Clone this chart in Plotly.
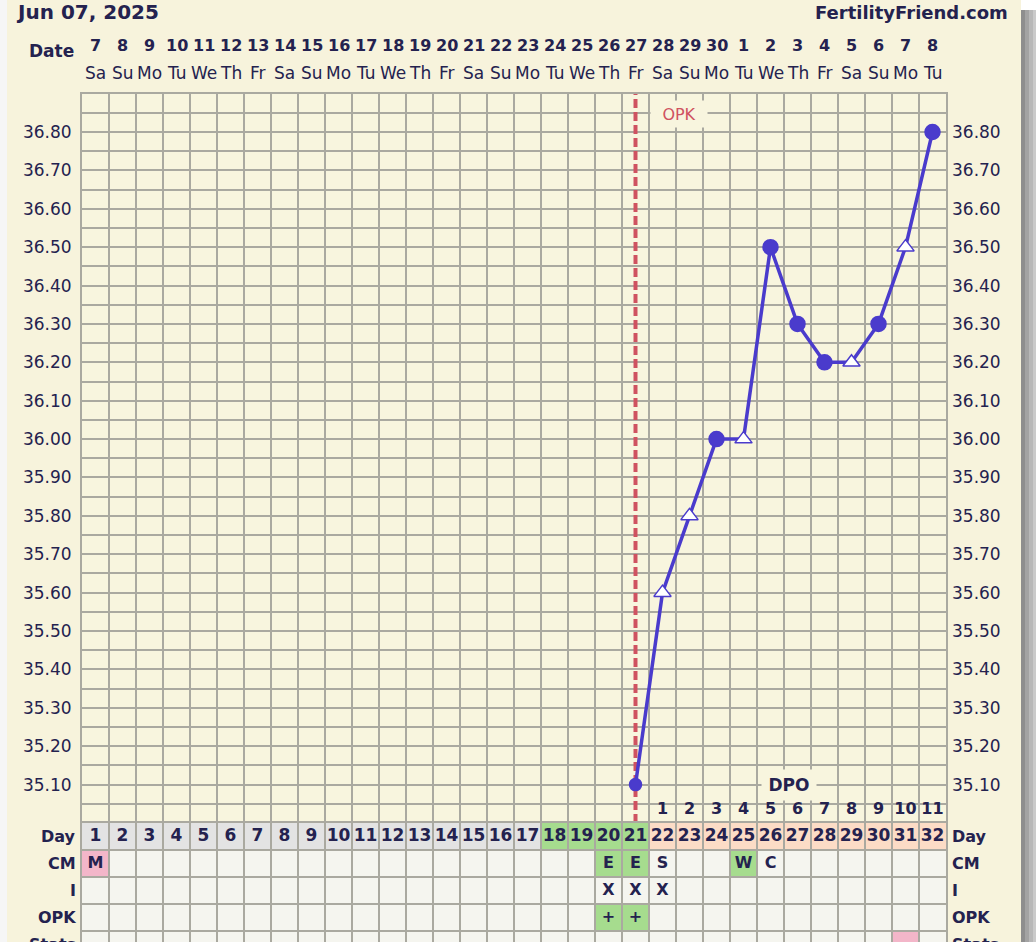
import plotly.graph_objects as go

# ---------------- data ----------------
days = list(range(1, 33))
dates = list(range(7, 31)) + list(range(1, 9))
weekdays = (["Sa", "Su", "Mo", "Tu", "We", "Th", "Fr"] * 5)[:32]
temps = [None] * 20 + [35.10, 35.60, 35.80, 36.00, 36.00, 36.50,
                       36.30, 36.20, 36.20, 36.30, 36.50, 36.80]
temp_kind = [None] * 20 + ["small", "tri", "tri", "dot", "tri", "dot",
                           "dot", "dot", "tri", "dot", "tri", "dot"]
ytick_vals = [round(35.1 + 0.1 * i, 2) for i in range(18)]
header_date = "Jun 07, 2025"
site = "FertilityFriend.com"
opk_day = 21
dpo_days = list(range(22, 33))
dpo_vals = list(range(1, 12))
row_names = ["Day", "CM", "I", "OPK", "Stats"]
cm_labels = ["M"] + [""] * 18 + ["E", "E", "S", "", "", "W", "C"] + [""] * 6
cm_fill = ["pink"] + [""] * 18 + ["green", "green", "", "", "", "green", ""] + [""] * 6
int_labels = [""] * 19 + ["X", "X", "X"] + [""] * 10
opk_labels = [""] * 19 + ["+", "+"] + [""] * 11
opk_fill = [""] * 19 + ["green", "green"] + [""] * 11
stats_fill = [""] * 30 + ["pink", ""]
day_fill = ["gray"] * 17 + ["green"] * 4 + ["peach"] * 11

# ---------------- style ----------------
W, H = 1036, 942
L, R = 82, 90
NAVY = "#24224f"
GRID = "#aaa9a0"
CREAM = "#f7f3dc"
PLOTBG = "#f8f5de"
PURPLE = "#4a3bcc"
RED = "#cf5260"
FILL = {"gray": "#e3e3e3", "green": "#a6dc8e", "peach": "#fcdcc6",
        "pink": "#f3b6c9", "": "#f5f5ef"}
FONT = "DejaVu Sans"

top_px, split_px = 93.6, 823.0
ROW_PX = 27.0
y_main = [1 - split_px / H, 1 - top_px / H]
y_tab = [0, 1 - split_px / H]
tab_rows = (H - split_px) / ROW_PX


def px_x(p):
    return (p - L) / (W - L - R)


def px_y(p):
    return 1 - p / H


fig = go.Figure()

# OPK vertical dashed line
fig.add_trace(go.Scatter(x=[opk_day, opk_day], y=[35.0, 36.9], mode="lines",
                         line=dict(color=RED, width=4, dash="9px,4px"),
                         hoverinfo="skip", xaxis="x", yaxis="y"))

# temperature line
sym = {"small": "circle", "dot": "circle", "tri": "triangle-up"}
size = {"small": 12, "dot": 15, "tri": 15}
col = {"small": PURPLE, "dot": PURPLE, "tri": "white"}
fig.add_trace(go.Scatter(
    x=days, y=temps, mode="lines+markers",
    line=dict(color=PURPLE, width=3.5),
    marker=dict(symbol=[sym.get(k, "circle") for k in temp_kind],
                size=[size.get(k, 0) for k in temp_kind],
                color=[col.get(k, PURPLE) for k in temp_kind],
                opacity=1,
                line=dict(color=PURPLE, width=1.5)),
    hoverinfo="skip", xaxis="x", yaxis="y"))

# invisible trace for right axis
fig.add_trace(go.Scatter(x=days, y=temps, mode="markers", marker=dict(opacity=0),
                         hoverinfo="skip", xaxis="x", yaxis="y3"))

# DPO numbers
fig.add_trace(go.Scatter(x=dpo_days, y=[35.035] * len(dpo_days), mode="text",
                         text=[str(v) for v in dpo_vals],
                         textfont=dict(family=FONT, size=16, color=NAVY, weight="bold"),
                         hoverinfo="skip", xaxis="x", yaxis="y"))

# table texts
tfont = dict(family=FONT, size=16, color=NAVY, weight="bold")
fig.add_trace(go.Scatter(x=days, y=[0.5] * 32, mode="text", text=[str(d) for d in days],
                         textfont=dict(family=FONT, size=17, color=NAVY, weight="bold"),
                         hoverinfo="skip", xaxis="x2", yaxis="y2"))
for r, labels in ((1, cm_labels), (2, int_labels), (3, opk_labels)):
    fig.add_trace(go.Scatter(x=days, y=[r + 0.5] * 32, mode="text", text=labels,
                             textfont=tfont, hoverinfo="skip", xaxis="x2", yaxis="y2"))

# table cells
shapes = []
for r, fills in enumerate([day_fill, cm_fill, [""] * 32, opk_fill, stats_fill]):
    for d, f in zip(days, fills):
        shapes.append(dict(type="rect", xref="x2", yref="y2", x0=d - 0.5, x1=d + 0.5,
                           y0=r, y1=r + 1, fillcolor=FILL[f], line=dict(width=0),
                           layer="below"))
# page edges / shadow
shapes.append(dict(type="rect", xref="paper", yref="paper", x0=px_x(0), x1=px_x(7),
                   y0=0, y1=1, fillcolor="#f6f6f6", line=dict(width=0), layer="below"))
for x0, x1, c in ((1021, 1025, "#8e8e8e"), (1025, 1029, "#a3a3a3"),
                  (1029, 1033, "#b8b8b8"), (1033, 1036, "#cacaca")):
    shapes.append(dict(type="rect", xref="paper", yref="paper", x0=px_x(x0), x1=px_x(x1),
                       y0=0, y1=px_y(10), fillcolor=c, line=dict(width=0), layer="below"))
shapes.append(dict(type="rect", xref="paper", yref="paper", x0=px_x(1021), x1=px_x(1036),
                   y0=px_y(10), y1=1, fillcolor="#ffffff", line=dict(width=0), layer="below"))

# annotations
ann = []
ann.append(dict(text=header_date, xref="paper", yref="paper", x=px_x(14), y=px_y(12),
                xanchor="left", yanchor="middle", showarrow=False,
                font=dict(family=FONT, size=20, color=NAVY, weight="bold")))
ann.append(dict(text=site, xref="paper", yref="paper", x=px_x(1010), y=px_y(13),
                xanchor="right", yanchor="middle", showarrow=False,
                font=dict(family=FONT, size=18, color=NAVY, weight="bold")))
ann.append(dict(text="Date", xref="paper", yref="paper", x=px_x(76), y=px_y(51),
                xanchor="right", yanchor="middle", showarrow=False,
                font=dict(family=FONT, size=17, color=NAVY, weight="bold")))
for d, dt, wd in zip(days, dates, weekdays):
    ann.append(dict(text=str(dt), xref="x", yref="paper", x=d, y=px_y(46),
                    xanchor="center", yanchor="middle", showarrow=False,
                    font=dict(family=FONT, size=16, color=NAVY, weight="bold")))
    ann.append(dict(text=wd, xref="x", yref="paper", x=d, y=px_y(73),
                    xanchor="center", yanchor="middle", showarrow=False,
                    font=dict(family=FONT, size=17, color=NAVY)))
for r, name in enumerate(row_names):
    yc = px_y(split_px + ROW_PX * (r + 0.5))
    for xp, xa in ((px_x(78), "right"), (px_x(950), "left")):
        ann.append(dict(text=name, xref="paper", yref="paper", x=xp, y=yc,
                        xanchor=xa, yanchor="middle", showarrow=False,
                        font=dict(family=FONT, size=16, color=NAVY, weight="bold")))
ann.append(dict(text="OPK", xref="x", yref="y", x=opk_day + 0.55, y=36.847,
                xanchor="left", yanchor="middle", showarrow=False, width=54, height=24,
                bgcolor=PLOTBG, font=dict(family=FONT, size=16, color=RED)))
ann.append(dict(text="DPO", xref="x", yref="y", x=26.7, y=35.10,
                xanchor="center", yanchor="middle", showarrow=False, width=52, height=28,
                bgcolor=PLOTBG, font=dict(family=FONT, size=17, color=NAVY, weight="bold")))

grid_common = dict(showgrid=True, gridcolor=GRID, gridwidth=2, zeroline=False,
                   showline=True, linecolor=GRID, linewidth=2, mirror=True,
                   ticks="", fixedrange=True)
xgrid = [d + 0.5 for d in range(0, 33)]
tickfont = dict(family=FONT, size=17, color=NAVY)

fig.update_layout(
    width=W, height=H, margin=dict(l=L, r=R, t=0, b=0, pad=0),
    paper_bgcolor=CREAM, plot_bgcolor=PLOTBG, showlegend=False,
    shapes=shapes, annotations=ann,
    xaxis=dict(domain=[0, 1], range=[0.5, 32.5], tickvals=xgrid, showticklabels=False,
               anchor="y", **grid_common),
    yaxis=dict(domain=y_main, range=[35.0, 36.9], tickvals=ytick_vals,
               ticktext=[f"{v:.2f}" for v in ytick_vals], tickfont=tickfont,
               ticklabelstandoff=5, anchor="x",
               minor=dict(tick0=35.0, dtick=0.05, showgrid=True, gridcolor=GRID,
                          gridwidth=2, ticks=""),
               **grid_common),
    yaxis3=dict(overlaying="y", side="right", range=[35.0, 36.9], tickvals=ytick_vals,
                ticktext=[f"{v:.2f}" for v in ytick_vals], tickfont=tickfont,
                ticklabelstandoff=5, showgrid=False, zeroline=False, ticks="",
                anchor="x", fixedrange=True),
    xaxis2=dict(domain=[0, 1], range=[0.5, 32.5], tickvals=xgrid, showticklabels=False,
                anchor="y2", **grid_common),
    yaxis2=dict(domain=y_tab, range=[tab_rows, 0], tickvals=[0, 1, 2, 3, 4, 5],
                showticklabels=False, anchor="x2", **grid_common),
)

fig.write_html("out.html", config={"displayModeBar": False},
               post_script="document.body.style.margin='0';")
